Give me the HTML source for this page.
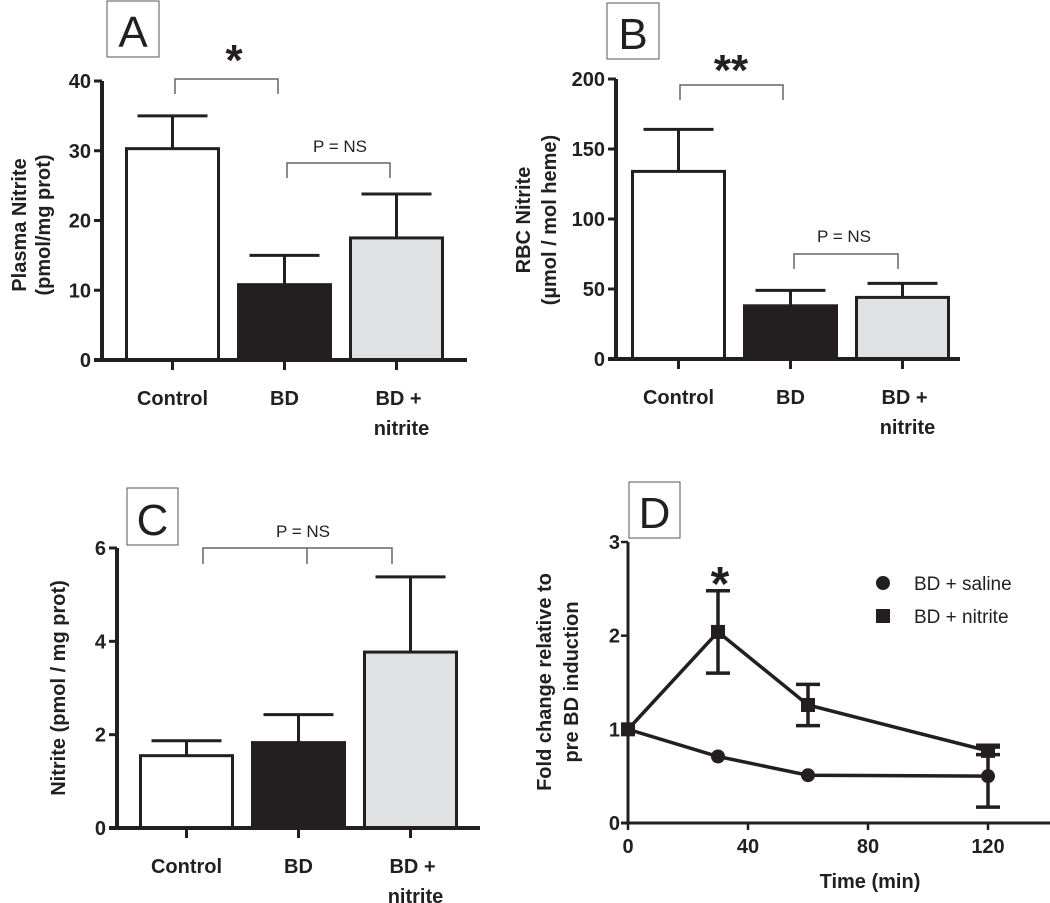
<!DOCTYPE html>
<html><head><meta charset="utf-8"><style>
html,body{margin:0;padding:0;background:#fff;}
svg{display:block;font-family:"Liberation Sans",Arial,sans-serif;}
.t{font-weight:bold;font-size:20px;fill:#231f20;}
</style></head><body>
<svg id="fig" width="1050" height="903" viewBox="0 0 1050 903" xmlns="http://www.w3.org/2000/svg"></svg>
<script>
const categories = ["Control","BD","BD + nitrite"];
const aValues = [30.3, 10.8, 17.5];
const aErrors = [4.7, 4.2, 6.3];
const aTicks = [0,10,20,30,40];
const bValues = [134, 38, 44];
const bErrors = [30, 11, 10];
const bTicks = [0,50,100,150,200];
const cValues = [1.55, 1.83, 3.77];
const cErrors = [0.32, 0.6, 1.61];
const cTicks = [0,2,4,6];
const dTimes = [0,30,60,120];
const dSaline = [1, 0.71, 0.51, 0.5];
const dSalineErr = [0, 0, 0, 0.33];
const dNitrite = [1, 2.04, 1.26, 0.77];
const dNitriteErr = [0, 0.44, 0.22, 0.04];
const dYTicks = [0,1,2,3];
const dXTicks = [0,40,80,120];

const NS="http://www.w3.org/2000/svg";
const svg=document.getElementById('fig');
function mk(tag,attrs,parent){const e=document.createElementNS(NS,tag);for(const k in attrs)e.setAttribute(k,attrs[k]);(parent||svg).appendChild(e);return e;}
function txt(s,x,y,cls,anchor,parent,extra){const e=mk('text',Object.assign({x:x,y:y,'text-anchor':anchor||'middle'},extra||{}),parent);if(cls)e.setAttribute('class',cls);e.textContent=s;return e;}
const fills=['#ffffff','#231f20','#e0e1e3'];

function barPanel(cfg){
  const g=mk('g',{});
  
  
  const max=cfg.ticks[cfg.ticks.length-1];
  const y=v=>cfg.y0-(v/max)*(cfg.y0-cfg.yTop);
  const x=i=>cfg.b0+i*cfg.step;
  cfg.values.forEach((v,i)=>{
    const cx=x(i)+cfg.bw/2;
    const err=mk('path',{d:`M${cx},${y(v)} V${y(v+cfg.errors[i])} M${cx-35},${y(v+cfg.errors[i])} H${cx+35}`,stroke:'#231f20','stroke-width':3,fill:'none'},g);
    
    
    const r=mk('rect',{x:x(i)+1.5,y:y(v),width:cfg.bw-3,height:cfg.y0-y(v),fill:fills[i],stroke:'#231f20','stroke-width':3},g);
    
    
    mk('line',{x1:cx,y1:cfg.y0,x2:cx,y2:cfg.y0+10,stroke:'#231f20','stroke-width':3},g);
    const lab=mk('text',{x:cx,y:cfg.y0+45,'text-anchor':'middle',class:'t'},g);
    
    
    if(i==2){const a=mk('tspan',{x:cx+2},lab);a.textContent='BD +';const b=mk('tspan',{x:cx+5,dy:30},lab);b.textContent='nitrite';}
    else lab.textContent=categories[i];
  });
  mk('line',{x1:cfg.ax,y1:cfg.yTop,x2:cfg.ax,y2:cfg.y0+1.5,stroke:'#231f20','stroke-width':4},g);
  mk('line',{x1:cfg.ax-8,y1:cfg.y0,x2:cfg.xEnd,y2:cfg.y0,stroke:'#231f20','stroke-width':4},g);
  cfg.ticks.forEach(t=>{
    mk('line',{x1:cfg.ax-8,y1:y(t),x2:cfg.ax,y2:y(t),stroke:'#231f20','stroke-width':3},g);
    const tl=txt(String(t),cfg.ax-11,y(t)+7,'t','end',g);
    
    
  });
  return g;
}

function letterBox(l,x,y,w,h){
  const g=mk('g',{});
  
  
  mk('rect',{x:x,y:y,width:w,height:h,fill:'#fff',stroke:'#555','stroke-width':1},g);
  txt(l,x+w/2,y+h-10,null,'middle',g,{'font-size':44,fill:'#231f20'});
}
function bracket(x1,x2,y,drop,mid){
  let d=`M${x1},${y+drop} V${y} H${x2} V${y+drop}`;
  if(mid!==undefined)d+=` M${mid},${y} V${y+drop}`;
  const p=mk('path',{d:d,stroke:'#666','stroke-width':1.5,fill:'none'});
  
  
}
function ylabel(lines,x,y,gap){
  const e=mk('text',{transform:`translate(${x},${y}) rotate(-90)`,'text-anchor':'middle',class:'t'});
  
  
  lines.forEach((s,i)=>{const t=mk('tspan',{x:0,dy:i?gap:0},e);t.textContent=s;});
}

// Panel A
barPanel({name:'panel-a',values:aValues,errors:aErrors,ticks:aTicks,ax:102,yTop:81,y0:360,b0:125,step:112,bw:95,xEnd:467});
letterBox('A',107,1,52,56);
bracket(175,278,79,15);
txt('*',234,75,null,'middle',null,{'font-size':44,'font-weight':'bold',fill:'#231f20'});
txt('P = NS',340,152,null,'middle',null,{'font-size':17,fill:'#231f20'});
bracket(287,390,163,15);
ylabel(['Plasma  Nitrite','(pmol/mg prot)'],26,225,24);

// Panel B
barPanel({name:'panel-b',values:bValues,errors:bErrors,ticks:bTicks,ax:616,yTop:79,y0:359,b0:631,step:112,bw:95,xEnd:960});
letterBox('B',607,3,52,56);
bracket(680,783,85,15);
txt('**',731,85,null,'middle',null,{'font-size':44,'font-weight':'bold',fill:'#231f20'});
txt('P = NS',844,242,null,'middle',null,{'font-size':17,fill:'#231f20'});
bracket(794,898,254,15);
ylabel(['RBC  Nitrite','(µmol / mol heme)'],530,220,26);

// Panel C
barPanel({name:'panel-c',values:cValues,errors:cErrors,ticks:cTicks,ax:117,yTop:548,y0:828,b0:139,step:112,bw:95,xEnd:480});
letterBox('C',127,488,51,57);
txt('P = NS',303,537,null,'middle',null,{'font-size':17,fill:'#231f20'});
bracket(203,392,548,16,307);
ylabel(['Nitrite (pmol / mg prot)'],65,688,24);

// Panel D
(function(){
  const g=mk('g',{});
  
  
  const x=t=>628+t*3, y=v=>823-v*(823-542)/3;
  mk('line',{x1:x(0),y1:y(3),x2:x(0),y2:y(0)+1.5,stroke:'#231f20','stroke-width':3},g);
  mk('line',{x1:x(0)-7,y1:y(0),x2:1050,y2:y(0),stroke:'#231f20','stroke-width':3},g);
  dYTicks.forEach(t=>{mk('line',{x1:x(0)-7,y1:y(t),x2:x(0),y2:y(t),stroke:'#231f20','stroke-width':2.5},g);
    const l=txt(String(t),x(0)-8,y(t)+7,'t','end',g);});
  dXTicks.forEach(t=>{mk('line',{x1:x(t),y1:y(0),x2:x(t),y2:y(0)+7,stroke:'#231f20','stroke-width':2.5},g);
    const l=txt(String(t),x(t),y(0)+30,'t','middle',g);});
  const xt=txt('Time (min)',870,888,'t','middle',g);
  function series(vals,errs,name,marker){
    const pts=dTimes.map((t,i)=>x(t)+','+y(vals[i])).join(' ');
    const l=mk('polyline',{points:pts,fill:'none',stroke:'#231f20','stroke-width':3.5},g);
    
    dTimes.forEach((t,i)=>{
      if(errs[i]>0){const e=mk('path',{d:`M${x(t)},${y(vals[i]-errs[i])} V${y(vals[i]+errs[i])} M${x(t)-12},${y(vals[i]-errs[i])} H${x(t)+12} M${x(t)-12},${y(vals[i]+errs[i])} H${x(t)+12}`,stroke:'#231f20','stroke-width':3.5,fill:'none'},g);
        }
      let m;
      if(marker=='c')m=mk('circle',{cx:x(t),cy:y(vals[i]),r:7,fill:'#231f20'},g);
      else m=mk('rect',{x:x(t)-7,y:y(vals[i])-7,width:14,height:14,fill:'#231f20'},g);
      
    });
  }
  series(dSaline,dSalineErr,'bd-saline','c');
  series(dNitrite,dNitriteErr,'bd-nitrite','s');
  const lg=mk('g',{},g);
  mk('circle',{cx:883,cy:583,r:7,fill:'#231f20'},lg);
  txt('BD + saline',914,590,null,'start',lg,{'font-size':19,fill:'#231f20'});
  mk('rect',{x:876,y:609,width:14,height:14,fill:'#231f20'},lg);
  txt('BD + nitrite',914,623,null,'start',lg,{'font-size':19,fill:'#231f20'});
})();
letterBox('D',629,482,51,56);
txt('*',720,600,null,'middle',null,{'font-size':48,'font-weight':'bold',fill:'#231f20'});
ylabel(['Fold change relative to','pre BD induction'],551,682,27);
</script>
</body></html>
